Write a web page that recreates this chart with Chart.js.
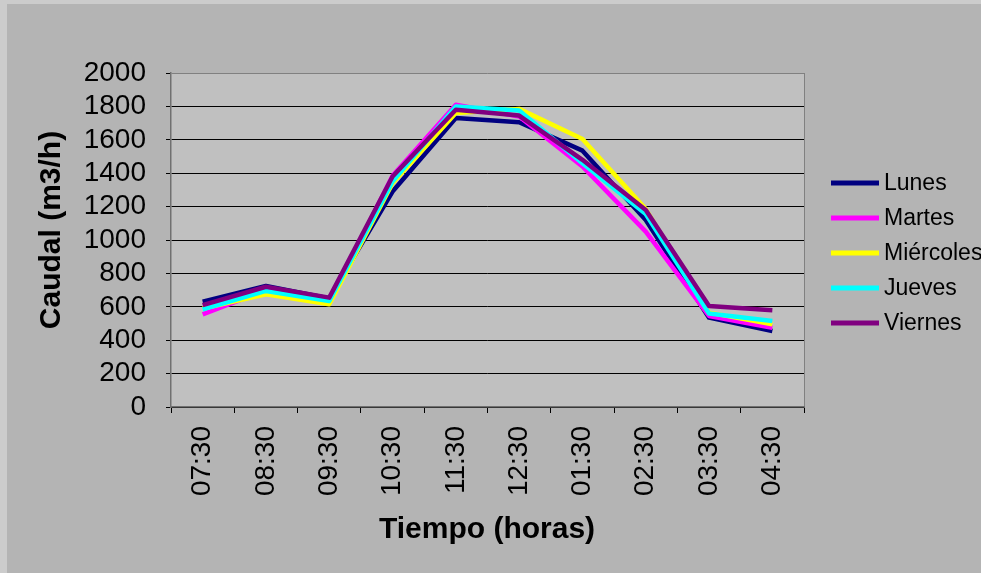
<!DOCTYPE html>
<html>
<head>
<meta charset="utf-8">
<script src="https://cdn.jsdelivr.net/npm/chart.js@4"></script>
<style>
  html, body { margin: 0; padding: 0; background: #cccccc; }
  #wrap { width: 981px; height: 573px; position: relative; }
</style>
</head>
<body>
<div id="wrap"><canvas id="chart" width="981" height="573"></canvas></div>
<script>
const horas = ["07:30", "08:30", "09:30", "10:30", "11:30", "12:30", "01:30", "02:30", "03:30", "04:30"];
const lunes = [630, 725, 650, 1290, 1730, 1705, 1535, 1120, 535, 455];
const martes = [555, 700, 625, 1385, 1810, 1740, 1440, 1050, 545, 475];
const miercoles = [590, 675, 615, 1340, 1760, 1785, 1605, 1185, 565, 495];
const jueves = [585, 695, 635, 1350, 1800, 1775, 1460, 1155, 560, 515];
const viernes = [610, 720, 655, 1380, 1780, 1745, 1480, 1180, 605, 580];

const nombres = ["Lunes", "Martes", "Miércoles", "Jueves", "Viernes"];
const colores = ["#000080", "#ff00ff", "#ffff00", "#00ffff", "#800080"];
const series = [lunes, martes, miercoles, jueves, viernes];

const fuente = "'Liberation Sans', Arial, sans-serif";

// fondo, area de trazado, titulos y leyenda
const decor = {
    id: "decor",
    beforeDraw(chart) {
        const ctx = chart.ctx;
        const a = chart.chartArea;
        ctx.save();
        ctx.fillStyle = "#cccccc";
        ctx.fillRect(0, 0, chart.width, chart.height);
        ctx.fillStyle = "#b4b4b4";
        ctx.fillRect(7, 4, chart.width - 7, chart.height - 4);
        ctx.fillStyle = "#c0c0c0";
        ctx.fillRect(a.left, a.top, a.right - a.left, a.bottom - a.top);
        ctx.strokeStyle = "#808080";
        ctx.lineWidth = 1;
        ctx.beginPath();
        ctx.moveTo(a.right + 0.5, a.top);
        ctx.lineTo(a.right + 0.5, a.bottom);
        ctx.stroke();
        ctx.restore();
    },
    afterDraw(chart) {
        const ctx = chart.ctx;
        ctx.save();
        ctx.fillStyle = "#000";
        ctx.font = "bold 30px " + fuente;
        ctx.textAlign = "center";
        ctx.textBaseline = "middle";
        ctx.fillText("Tiempo (horas)", 487, 530);
        ctx.translate(52, 230);
        ctx.rotate(-Math.PI / 2);
        ctx.fillText("Caudal (m3/h)", 0, 0);
        ctx.restore();

        ctx.save();
        ctx.font = "23px " + fuente;
        ctx.textAlign = "left";
        ctx.textBaseline = "middle";
        chart.data.datasets.forEach((ds, i) => {
            const y = 183 + i * 35;
            ctx.strokeStyle = ds.borderColor;
            ctx.lineWidth = 5;
            ctx.beginPath();
            ctx.moveTo(831, y);
            ctx.lineTo(879, y);
            ctx.stroke();
            ctx.fillStyle = "#000";
            ctx.fillText(ds.label, 884, y + 1);
        });
        ctx.restore();
    }
};

new Chart(document.getElementById("chart"), {
    type: "line",
    plugins: [decor],
    data: {
        labels: horas,
        datasets: series.map((s, i) => ({
            label: nombres[i],
            data: s,
            borderColor: colores[i],
            backgroundColor: colores[i],
            borderWidth: 4.5,
            pointRadius: 0,
            tension: 0,
            borderJoinStyle: "round",
            order: series.length - 1 - i,
        })),
    },
    options: {
        responsive: false,
        animation: false,
        layout: { padding: { top: 73, right: 177, left: 0, bottom: 0 } },
        plugins: {
            legend: { display: false },
            tooltip: { enabled: false },
        },
        scales: {
            x: {
                offset: true,
                afterFit: (scale) => { scale.height = 166; },
                grid: {
                    offset: true,
                    drawOnChartArea: false,
                    drawTicks: true,
                    tickLength: 6,
                    tickColor: "#000",
                },
                border: { color: "#707070", width: 1.5 },
                ticks: {
                    minRotation: 90,
                    maxRotation: 90,
                    autoSkip: false,
                    padding: 13,
                    color: "#000",
                    font: { family: fuente, size: 28 },
                },
            },
            y: {
                min: 0,
                max: 2000,
                afterFit: (scale) => { scale.width = 171; },
                grid: {
                    color: (c) => (c.tick && c.tick.value === 2000 ? "#808080" : "#000"),
                    tickLength: 5,
                    tickColor: "#000",
                },
                border: { color: "#707070", width: 1.5 },
                ticks: {
                    stepSize: 200,
                    autoSkip: false,
                    padding: 20,
                    color: "#000",
                    font: { family: fuente, size: 28 },
                    callback: (v) => String(v),
                },
            },
        },
    },
});
</script>
</body>
</html>
